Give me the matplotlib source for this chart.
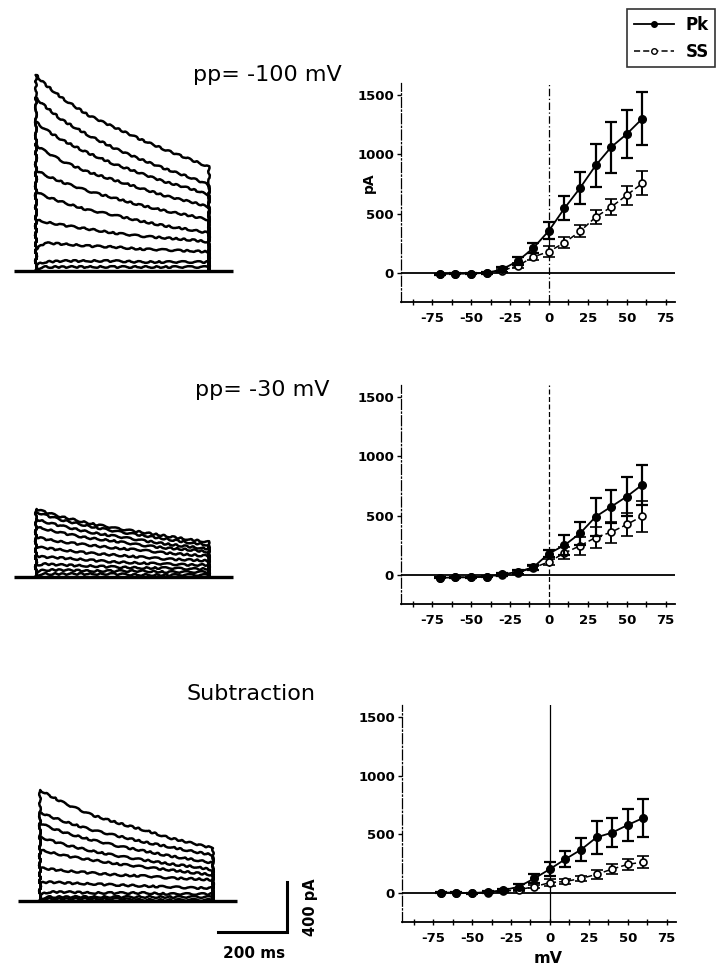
import numpy as np
import matplotlib
matplotlib.use("Agg")
import matplotlib.pyplot as plt
from matplotlib.lines import Line2D
from matplotlib.ticker import MultipleLocator
from matplotlib.font_manager import FontProperties

plt.rcParams["axes.unicode_minus"] = False

# ---- IV data (mV, pA) ----
mv = [-70, -60, -50, -40, -30, -20, -10, 0, 10, 20, 30, 40, 50, 60]

pk_100 = [-10, -5, -5, 0, 30, 100, 210, 355, 545, 715, 905, 1060, 1170, 1300]
pk_100_err = [5, 5, 5, 10, 20, 30, 45, 70, 100, 135, 180, 215, 200, 225]
ss_100 = [-10, -5, -5, 0, 20, 60, 135, 180, 255, 350, 470, 555, 655, 755]
ss_100_err = [5, 5, 5, 5, 10, 20, 30, 45, 45, 50, 60, 70, 80, 100]

pk_30 = [-25, -20, -20, -15, 5, 25, 65, 180, 250, 350, 490, 575, 660, 760]
pk_30_err = [5, 5, 5, 5, 10, 15, 20, 30, 85, 95, 160, 140, 165, 170]
ss_30 = [-25, -20, -20, -15, 0, 20, 60, 110, 185, 245, 315, 360, 425, 495]
ss_30_err = [5, 5, 5, 5, 5, 10, 15, 25, 50, 75, 90, 90, 100, 130]

pk_sub = [5, 5, 0, 10, 25, 55, 125, 205, 290, 370, 475, 515, 580, 640]
pk_sub_err = [5, 5, 5, 5, 10, 25, 40, 60, 65, 95, 140, 120, 135, 165]
ss_sub = [5, 5, 0, 5, 15, 30, 55, 90, 100, 125, 160, 205, 245, 265]
ss_sub_err = [5, 5, 5, 5, 5, 10, 15, 30, 20, 25, 40, 45, 45, 55]

# ---- current traces (pA) sampled at these times (ms) ----
t_ms = [0, 25, 75, 150, 225, 300, 375, 450, 500]

traces_100 = [
    [1568, 1496, 1384, 1248, 1152, 1056, 968, 888, 832],
    [1384, 1320, 1208, 1088, 984, 896, 816, 744, 688],
    [1192, 1136, 1048, 944, 856, 784, 712, 656, 608],
    [1008, 960, 880, 792, 728, 664, 600, 552, 512],
    [808, 768, 712, 640, 584, 528, 480, 440, 408],
    [632, 600, 552, 488, 448, 400, 360, 328, 304],
    [408, 392, 368, 336, 304, 280, 264, 248, 232],
    [176, 224, 216, 200, 192, 176, 168, 160, 152],
    [48, 72, 80, 80, 80, 72, 72, 72, 72],
    [16, 32, 32, 32, 32, 32, 32, 32, 32],
]

traces_30 = [
    [544, 520, 480, 432, 392, 360, 328, 296, 280],
    [520, 496, 456, 408, 368, 336, 304, 272, 256],
    [464, 440, 408, 360, 328, 296, 264, 240, 224],
    [400, 384, 352, 312, 288, 256, 232, 216, 200],
    [320, 304, 280, 256, 232, 216, 192, 176, 168],
    [240, 232, 216, 192, 176, 160, 144, 136, 128],
    [168, 160, 152, 136, 120, 112, 104, 96, 96],
    [96, 104, 96, 88, 80, 72, 72, 64, 64],
    [40, 56, 56, 48, 48, 48, 40, 40, 40],
    [16, 24, 24, 24, 24, 16, 16, 16, 16],
]

traces_sub = [
    [888, 848, 776, 688, 624, 568, 504, 456, 424],
    [712, 680, 632, 568, 520, 472, 432, 392, 368],
    [624, 592, 544, 488, 440, 400, 360, 328, 304],
    [512, 488, 448, 400, 360, 328, 296, 272, 248],
    [408, 392, 360, 328, 296, 272, 248, 224, 208],
    [264, 256, 240, 224, 208, 200, 184, 176, 168],
    [144, 152, 144, 136, 128, 120, 112, 104, 104],
    [48, 72, 72, 64, 64, 64, 56, 56, 56],
    [16, 32, 32, 32, 32, 32, 32, 32, 32],
    [8, 16, 16, 16, 16, 8, 8, 8, 8],
]

baseline_ms = [-65, 570]
bar_ms = 200
bar_pa = 400

# ---- layout ----
W, H = 723, 971
fig = plt.figure(figsize=(W / 100, H / 100), dpi=100)
PX_MS = 173 / 500
PX_PA = 50 / 400
TICKFONT = FontProperties(family="DejaVu Sans", weight="bold", size=9.5)


def px_axes(x0, y0, x1, y1):
    return fig.add_axes([x0 / W, 1 - y1 / H, (x1 - x0) / W, (y1 - y0) / H])


def trace_panel(box, t0, base, traces):
    ax = px_axes(*box)
    ax.set_xlim((box[0] - t0) / PX_MS, (box[2] - t0) / PX_MS)
    ax.set_ylim((base - box[3]) / PX_PA, (base - box[1]) / PX_PA)
    ax.axis("off")
    ax.plot(baseline_ms, [0, 0], color="black", lw=2.4, solid_capstyle="butt")
    for tr in traces:
        t = np.r_[0, t_ms, t_ms[-1]]
        y = np.r_[0, tr, 0]
        ln, = ax.plot(t, y, color="black", lw=1.8)
        ln.set_sketch_params(0.8, 12, 3)
    return ax


def iv_panel(box, pk, pk_err, ss, ss_err, zero_ls):
    ax = px_axes(*box)
    ax.set_xlim(-95, 81)
    ax.set_ylim(-245, 1600)
    for s in ("top", "right"):
        ax.spines[s].set_visible(False)
    ax.spines["left"].set_linestyle((0, (8, 2, 1, 2)))
    ax.spines["left"].set_linewidth(0.9)
    ax.spines["bottom"].set_linewidth(1.3)
    ax.axhline(0, color="black", lw=1.3)
    ax.axvline(0, color="black", lw=0.9, ls=zero_ls)
    ax.errorbar(mv, ss, yerr=ss_err, fmt="o", color="black", ms=5,
                mfc="white", mec="black", mew=1.2, ecolor="black",
                elinewidth=1.4, capsize=4, capthick=1.4, zorder=3)
    ax.plot(mv, ss, color="black", lw=1.1, ls=(0, (4, 2)), zorder=2)
    ax.errorbar(mv, pk, yerr=pk_err, fmt="o-", color="black", ms=5.5,
                lw=1.3, ecolor="black", elinewidth=1.6, capsize=4,
                capthick=1.6, zorder=4)
    ax.set_yticks([0, 500, 1000, 1500])
    ax.set_xticks([-75, -50, -25, 0, 25, 50, 75])
    ax.xaxis.set_minor_locator(MultipleLocator(12.5))
    ax.tick_params(axis="y", length=3, width=1, pad=2)
    ax.tick_params(axis="x", which="both", direction="inout", length=4,
                   width=1, pad=5)
    for lab in ax.get_xticklabels() + ax.get_yticklabels():
        lab.set_fontproperties(TICKFONT)
    return ax


trace_panel((0, 55, 245, 290), 36, 271, traces_100)
trace_panel((0, 470, 245, 600), 36, 577, traces_30)
ax_sub = trace_panel((0, 760, 340, 971), 40, 901, traces_sub)

# scale bars
corner_t = (287 - 40) / PX_MS
corner_y = (901 - 932) / PX_PA
ax_sub.plot([corner_t - bar_ms, corner_t, corner_t],
            [corner_y, corner_y, corner_y + bar_pa],
            color="black", lw=2.2, solid_joinstyle="miter")
fig.text(311 / W, 1 - 907 / H, "400 pA", rotation=90, ha="center",
         va="center", fontsize=10.5, weight="bold")
fig.text(254 / W, 1 - 953 / H, "200 ms", ha="center", va="center",
         fontsize=11, weight="bold")

iv_panel((401, 83, 675, 302), pk_100, pk_100_err, ss_100, ss_100_err,
         (0, (6, 2, 1, 2)))
iv_panel((401, 385, 675, 604), pk_30, pk_30_err, ss_30, ss_30_err,
         (0, (4, 2)))
iv_panel((402, 705, 676, 922), pk_sub, pk_sub_err, ss_sub, ss_sub_err, "-")

fig.text(369 / W, 1 - 183 / H, "pA", rotation=90, ha="center", va="center",
         fontsize=10, weight="bold")
fig.text(548 / W, 1 - 958 / H, "mV", ha="center", va="center",
         fontsize=11.5, weight="bold")

fig.text(267 / W, 1 - 75 / H, "pp= -100 mV", ha="center", va="center",
         fontsize=16)
fig.text(262 / W, 1 - 390 / H, "pp= -30 mV", ha="center", va="center",
         fontsize=16)
fig.text(251 / W, 1 - 694 / H, "Subtraction", ha="center", va="center",
         fontsize=16)

handles = [
    Line2D([], [], color="black", lw=1.3, marker="o", ms=4),
    Line2D([], [], color="black", lw=1.1, ls=(0, (4, 2)), marker="o", ms=4,
           mfc="white"),
]
leg = fig.legend(handles, ["Pk", "SS"], loc="upper left",
                 bbox_to_anchor=(627 / W, 1 - 9 / H), frameon=True,
                 fancybox=False, handlelength=2.4, handletextpad=0.7,
                 borderpad=0.4, labelspacing=0.55, borderaxespad=0,
                 prop=dict(weight="bold", size=12))
leg.get_frame().set_edgecolor("black")
leg.get_frame().set_linewidth(1.2)

fig.savefig("out.png", dpi=100)
